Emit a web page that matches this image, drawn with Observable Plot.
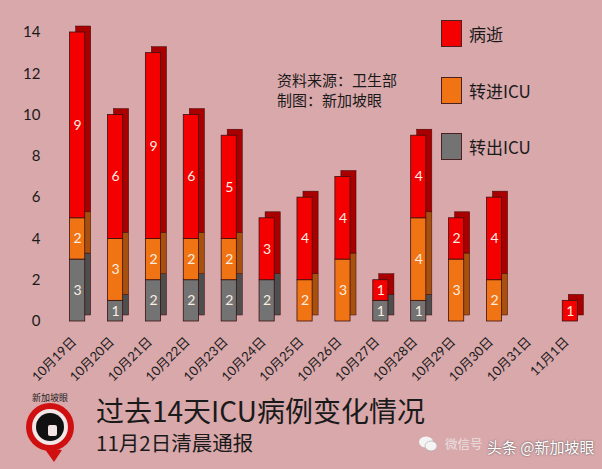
<!DOCTYPE html>
<html><head><meta charset="utf-8">
<script src="https://cdn.jsdelivr.net/npm/d3@7"></script>
<script src="https://cdn.jsdelivr.net/npm/@observablehq/plot@0.6"></script>
<style>
body{margin:0;background:#d9a8ab;}
#wrap{position:relative;width:602px;height:469px;overflow:hidden;background:#d9a8ab;font-family:"Noto Sans CJK SC","Noto Sans",sans-serif;color:#1a1a1a;}
#chart{position:absolute;left:0;top:0;}
.leg{position:absolute;left:441px;display:flex;align-items:center;font-size:17px;}
.leg span.sw{width:21px;height:27px;border:1px solid #4a2020;margin-right:7px;box-sizing:border-box;}
#src{position:absolute;left:277px;top:70px;font-size:15px;line-height:20px;}
#title{position:absolute;left:96px;top:393px;font-size:28px;line-height:34px;white-space:nowrap;}
#sub{position:absolute;left:96px;top:429px;font-size:20.5px;line-height:26px;white-space:nowrap;}
#wm1{position:absolute;left:445px;top:434px;font-size:12.5px;color:#eee;opacity:0.8;white-space:nowrap;}
#wm{position:absolute;left:487px;top:436px;font-size:15px;color:#fff;text-shadow:0 0 2px #444;white-space:nowrap;}
</style></head>
<body><div id="wrap">
<div id="chart"></div>
<div id="src">资料来源：卫生部<br>制图：新加坡眼</div>
<div id="legend"></div>
<svg style="position:absolute;left:18px;top:390px" width="70" height="75">
  <text x="32" y="11" font-size="9" text-anchor="middle" fill="#222" font-family="Noto Sans CJK SC">新加坡眼</text>
  <path d="M26 58 L36 72 L44 60 Z" fill="#d01010"/>
  <circle cx="32" cy="37" r="24" fill="#d01010"/>
  <circle cx="32" cy="37" r="18" fill="#f2e6e6"/>
  <circle cx="32" cy="37" r="14" fill="#111"/>
  <rect x="30" y="35" width="9" height="11" rx="2" fill="#f2e6e6"/>
</svg>
<svg style="position:absolute;left:419px;top:436px" width="18" height="16">
  <ellipse cx="7" cy="6" rx="7" ry="5.5" fill="#f4f4f4"/>
  <ellipse cx="12" cy="10" rx="6" ry="5" fill="#f4f4f4" stroke="#999" stroke-width="0.5"/>
</svg>
<div id="title">过去14天ICU病例变化情况</div>
<div id="sub">11月2日清晨通报</div>
<div id="wm1">微信号</div>
<div id="wm">头条 @新加坡眼</div>
</div>
<script>
const dates = ["10月19日","10月20日","10月21日","10月22日","10月23日","10月24日","10月25日","10月26日","10月27日","10月28日","10月29日","10月30日","10月31日","11月1日"];
const seriesNames = ["转出ICU","转进ICU","病逝"];
const outICU = [3,1,2,2,2,2,0,0,1,1,0,0,0,0];
const inICU  = [2,3,2,2,2,0,2,3,0,4,3,2,0,0];
const deaths = [9,6,9,6,5,3,4,4,1,4,2,4,0,1];
const yTicks = [0,2,4,6,8,10,12,14];
const frontColors = ["#737373","#f07414","#f40000"];
const sideColors  = ["#4e4e4e","#a8500e","#a80000"];
const legendOrder = ["病逝","转进ICU","转出ICU"];

const values = [outICU, inICU, deaths];
const data = [];
seriesNames.forEach((s, si) => {
  dates.forEach((d, di) => {
    if (values[si][di] > 0) data.push({date: d, series: s, value: values[si][di]});
  });
});

const stackOpts = {x: "date", y: "value", z: "series", order: seriesNames};
const chart = Plot.plot({
  width: 602, height: 385,
  marginLeft: 62, marginRight: 17, marginTop: 32, marginBottom: 64,
  style: {background: "transparent", fontFamily: "Lato, 'Noto Sans CJK SC', sans-serif"},
  x: {domain: dates, paddingInner: 0.6, paddingOuter: 0.2, round: false, label: null},
  y: {domain: [0, 14], ticks: yTicks, label: null},
  color: {domain: seriesNames, range: frontColors},
  marks: [
    Plot.barY(data, Plot.stackY({...stackOpts, fill: d => sideColors[seriesNames.indexOf(d.series)], stroke: "#3a0a0a", strokeWidth: 0.5, dx: 6, dy: -6})),
    Plot.barY(data, Plot.stackY({...stackOpts, fill: "series", stroke: "#3a1010", strokeWidth: 0.8})),
    Plot.text(data, Plot.stackY({...stackOpts, text: "value", fill: "#fbeee0", fontSize: 14})),
    Plot.axisY({ticks: yTicks, tickSize: 0, tickPadding: 22, fontSize: 15, fill: "#1a1a1a"}),
    Plot.axisX({tickSize: 0, tickRotate: -45, tickPadding: 18, fontSize: 13, dx: -3.5, fill: "#1a1a1a"})
  ]
});
document.getElementById("chart").appendChild(chart);

const leg = document.getElementById("legend");
const tops = [20, 77, 133];
legendOrder.forEach((name, i) => {
  const si = seriesNames.indexOf(name);
  const el = document.createElement("div");
  el.className = "leg";
  el.style.top = tops[i] + "px";
  el.innerHTML = `<span class="sw" style="background:${frontColors[si]}"></span>${name}`;
  leg.appendChild(el);
});
</script>
</body></html>
